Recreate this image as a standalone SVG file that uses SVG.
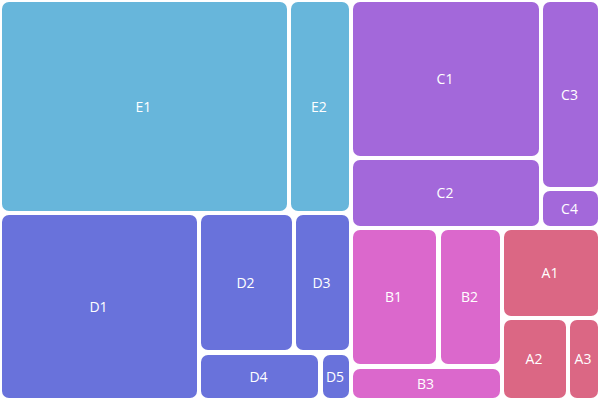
<svg xmlns="http://www.w3.org/2000/svg" width="600" height="400" viewBox="0 0 600 400">
<style>
rect{stroke:none}
.E{fill:#67b6db}.D{fill:#6972db}.C{fill:#a368da}.B{fill:#db68cc}.A{fill:#db6784}
text{font-family:"Open Sans","Noto Sans",sans-serif;font-size:14px;fill:#fff;text-anchor:middle;dominant-baseline:central}
</style>
<rect width="600" height="400" fill="#fff"/>
<g id="E1"><rect class="E" x="2" y="2" width="285" height="209" rx="7"/><text x="143.5" y="106">E1</text></g>
<g id="E2"><rect class="E" x="291" y="2" width="58" height="209" rx="7"/><text x="319" y="106">E2</text></g>
<g id="C1"><rect class="C" x="353" y="2" width="186" height="154" rx="7"/><text x="445" y="78.5">C1</text></g>
<g id="C2"><rect class="C" x="353" y="160" width="186" height="66" rx="7"/><text x="445" y="192.5">C2</text></g>
<g id="C3"><rect class="C" x="543" y="2" width="55" height="185" rx="7"/><text x="569.5" y="94">C3</text></g>
<g id="C4"><rect class="C" x="543" y="191" width="55" height="35" rx="7"/><text x="569.5" y="208">C4</text></g>
<g id="D1"><rect class="D" x="2" y="215" width="195" height="183" rx="7"/><text x="98.5" y="306">D1</text></g>
<g id="D2"><rect class="D" x="201" y="215" width="91" height="135" rx="7"/><text x="245.5" y="282">D2</text></g>
<g id="D3"><rect class="D" x="296" y="215" width="53" height="135" rx="7"/><text x="321.5" y="282">D3</text></g>
<g id="D4"><rect class="D" x="201" y="355" width="117" height="43" rx="7"/><text x="258.5" y="376">D4</text></g>
<g id="D5"><rect class="D" x="323" y="355" width="26" height="43" rx="7"/><text x="335" y="376">D5</text></g>
<g id="B1"><rect class="B" x="353" y="230" width="83" height="134" rx="7"/><text x="393.5" y="296.5">B1</text></g>
<g id="B2"><rect class="B" x="441" y="230" width="59" height="134" rx="7"/><text x="469.5" y="296.5">B2</text></g>
<g id="B3"><rect class="B" x="353" y="369" width="147" height="29" rx="7"/><text x="425.5" y="383">B3</text></g>
<g id="A1"><rect class="A" x="504" y="230" width="94" height="86" rx="7"/><text x="550" y="272.5">A1</text></g>
<g id="A2"><rect class="A" x="504" y="320" width="62" height="78" rx="7"/><text x="534" y="358.5">A2</text></g>
<g id="A3"><rect class="A" x="570" y="320" width="28" height="78" rx="7"/><text x="583" y="358.5">A3</text></g>
<g id="connectors"/>
</svg>
